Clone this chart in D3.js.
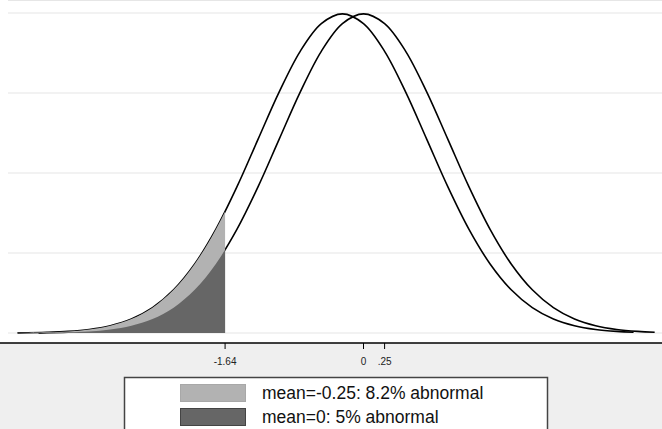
<!DOCTYPE html>
<html>
<head>
<meta charset="utf-8">
<script src="https://cdn.jsdelivr.net/npm/d3@7"></script>
<style>
  body { margin: 0; background: #fff; }
  svg { display: block; font-family: Arial, "Liberation Sans", sans-serif; }
</style>
</head>
<body>
<div id="chart"></div>
<script>
// offsets from the mean (sd units) and the density read at each one
const offsets = [-3.85, -3.5, -3.25, -3, -2.75, -2.5, -2.25, -2, -1.75, -1.5, -1.25, -1, -0.75, -0.5, -0.25,
  0, 0.25, 0.5, 0.75, 1, 1.25, 1.5, 1.75, 2, 2.25, 2.5, 2.75, 3, 3.25, 3.45];
const density = [0.0002, 0.0009, 0.0020, 0.0044, 0.0091, 0.0175, 0.0317, 0.0540, 0.0863, 0.1295, 0.1826, 0.2420, 0.3011, 0.3521, 0.3867,
  0.3989, 0.3867, 0.3521, 0.3011, 0.2420, 0.1826, 0.1295, 0.0863, 0.0540, 0.0317, 0.0175, 0.0091, 0.0044, 0.0020, 0.0010];
const means = [-0.25, 0];
const cutoff = -1.64;
const xTicks = [-1.64, 0, 0.25];
const xTickLabels = ['-1.64', '0', '.25'];
const yGrid = [0, 0.1, 0.2, 0.3, 0.4];
const legendLabels = ['mean=-0.25: 8.2% abnormal', 'mean=0: 5% abnormal'];
const fills = ['#b2b2b2', '#666666'];

const W = 662, H = 429;
const axisY = 343;

const x = d3.scaleLinear().domain([0, 0.25]).range([363.5, 384.6]);
const y = d3.scaleLinear().domain([0, 0.4]).range([333, 13]);

const svg = d3.select('#chart').append('svg')
  .attr('width', W)
  .attr('height', H);

// lower band below the axis
svg.append('rect')
  .attr('x', 0).attr('y', axisY)
  .attr('width', W).attr('height', H - axisY)
  .attr('fill', '#efefef');

// grid
svg.append('line')
  .attr('x1', 8).attr('x2', W).attr('y1', 0.5).attr('y2', 0.5)
  .attr('stroke', '#e6e6e6');
svg.selectAll('.grid')
  .data(yGrid)
  .enter()
  .append('line')
  .attr('class', 'grid')
  .attr('x1', 8).attr('x2', W)
  .attr('y1', d => y(d)).attr('y2', d => y(d))
  .attr('stroke', '#e6e6e6')
  .attr('stroke-width', 1.2);

const series = means.map(m => offsets.map((o, i) => ({ x: m + o, y: density[i] })));

const line = d3.line()
  .x(d => x(d.x))
  .y(d => y(d.y))
  .curve(d3.curveCatmullRom);

const area = d3.area()
  .x(d => x(d.x))
  .y0(y(0))
  .y1(d => y(d.y))
  .curve(d3.curveCatmullRom);

svg.selectAll('.curve')
  .data(series)
  .enter()
  .append('path')
  .attr('class', 'curve')
  .attr('d', line)
  .attr('fill', 'none')
  .attr('stroke', '#000')
  .attr('stroke-width', 1.6);

// shaded tails, clipped at the cutoff
svg.append('clipPath')
  .attr('id', 'tail')
  .append('rect')
  .attr('x', 0).attr('y', 0)
  .attr('width', x(cutoff)).attr('height', y(0) + 0.5);

svg.selectAll('.tail')
  .data(series)
  .enter()
  .append('path')
  .attr('class', 'tail')
  .attr('clip-path', 'url(#tail)')
  .attr('d', area)
  .attr('fill', (d, i) => fills[i]);

// x axis
svg.append('line')
  .attr('x1', 0).attr('x2', W)
  .attr('y1', axisY).attr('y2', axisY)
  .attr('stroke', '#000')
  .attr('stroke-width', 1.6);

const ticks = svg.selectAll('.tick')
  .data(xTicks)
  .enter()
  .append('g')
  .attr('class', 'tick')
  .attr('transform', d => `translate(${x(d)},0)`);
ticks.append('line')
  .attr('y1', axisY).attr('y2', axisY + 6)
  .attr('stroke', '#000');
ticks.append('text')
  .attr('y', axisY + 22)
  .attr('text-anchor', 'middle')
  .attr('font-size', 10)
  .attr('fill', '#222')
  .text((d, i) => xTickLabels[i]);

// legend
const lg = svg.append('g');
lg.append('rect')
  .attr('x', 124.5).attr('y', 377.5)
  .attr('width', 423).attr('height', 60)
  .attr('fill', '#fff')
  .attr('stroke', '#444')
  .attr('stroke-width', 1.5);

const items = lg.selectAll('.item')
  .data(legendLabels)
  .enter()
  .append('g')
  .attr('class', 'item')
  .attr('transform', (d, i) => `translate(0,${384 + i * 24})`);
items.append('rect')
  .attr('x', 180.5).attr('y', 0.5)
  .attr('width', 65).attr('height', 17)
  .attr('fill', (d, i) => fills[i])
  .attr('stroke', (d, i) => i === 0 ? '#a8a8a8' : '#444');
items.append('text')
  .attr('x', 262).attr('y', 15)
  .attr('font-size', 17.5)
  .attr('fill', '#111')
  .text(d => d);
</script>
</body>
</html>
